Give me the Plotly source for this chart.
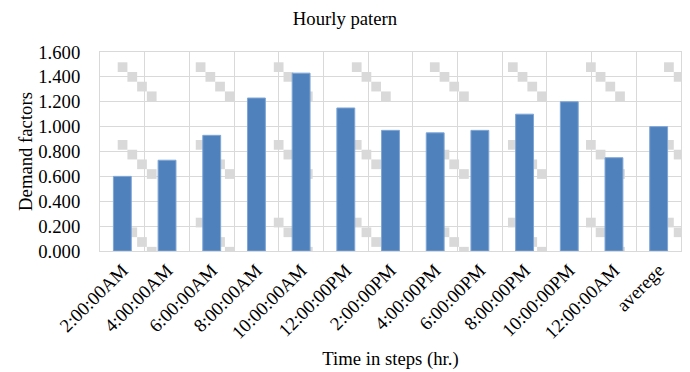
import plotly.graph_objects as go

categories = ["2:00:00AM", "4:00:00AM", "6:00:00AM", "8:00:00AM", "10:00:00AM",
              "12:00:00PM", "2:00:00PM", "4:00:00PM", "6:00:00PM", "8:00:00PM",
              "10:00:00PM", "12:00:00AM", "averege"]
demand = [0.60, 0.73, 0.93, 1.23, 1.43, 1.15, 0.97, 0.95, 0.97, 1.10, 1.20, 0.75, 1.00]
y_ticks = [0.0, 0.2, 0.4, 0.6, 0.8, 1.0, 1.2, 1.4, 1.6]

W, H = 690, 372
L, R, T, B = 100, 9, 52, 121
plot_w = W - L - R
plot_h = H - T - B
n = len(categories)
ymax = 1.6

FONT = "Liberation Serif, Times New Roman, serif"

fig = go.Figure()
fig.add_trace(go.Bar(
    x=categories, y=demand,
    marker=dict(color="#4F81BD", line=dict(color="#7FA6D6", width=1)),
    hoverinfo="x+y",
))

# decorative background pattern (diagonal staircase of grey squares)
def px_to_x(px):
    return (px - L) / plot_w * n - 0.5

def py_to_y(py):
    return (T + plot_h - py) / plot_h * ymax

sq = 9.72
shapes = []
for i in range(-1, 9):
    for j in range(-1, 4):
        for k in range(4):
            x0 = 117.7 + 78.05 * i + sq * k
            y0 = 62.3 + 77.7 * j + sq * k
            shapes.append(dict(
                type="rect", xref="x", yref="y", layer="below",
                x0=px_to_x(x0), x1=px_to_x(x0 + sq),
                y0=py_to_y(y0 + sq), y1=py_to_y(y0),
                fillcolor="#D9D9D9", line=dict(width=0),
            ))

fig.update_layout(
    width=W, height=H,
    margin=dict(l=L, r=R, t=T, b=B, autoexpand=False),
    paper_bgcolor="white", plot_bgcolor="white",
    font=dict(family=FONT, size=18.7, color="black"),
    showlegend=False,
    bargap=0.6,
    shapes=shapes,
    title=dict(text="Hourly patern", xref="container", x=0.5, xanchor="center",
               yref="container", y=1 - 18 / H, yanchor="middle",
               font=dict(family=FONT, size=18.7, color="black")),
    xaxis=dict(
        type="category", range=[-0.5, n - 0.5],
        tickangle=-45, tickson="boundaries", ticks="", showgrid=True,
        gridcolor="#D9D9D9", gridwidth=1,
        showline=True, linecolor="#D9D9D9", linewidth=1, mirror=True,
        tickfont=dict(family=FONT, size=18.7, color="black"),
        title=dict(text="Time in steps (hr.)", standoff=10,
                   font=dict(family=FONT, size=18.7, color="black")),
    ),
    yaxis=dict(
        range=[0, ymax], tickvals=y_ticks, tickformat=".3f",
        showgrid=True, gridcolor="#D9D9D9", gridwidth=1,
        showline=True, linecolor="#D9D9D9", linewidth=1, mirror=True,
        zeroline=False, ticks="", ticklabelstandoff=15,
        tickfont=dict(family=FONT, size=18.7, color="black"),
        title=dict(text="Demand factors", standoff=0,
                   font=dict(family=FONT, size=18.7, color="black")),
    ),
)

fig.write_html("out.html")
